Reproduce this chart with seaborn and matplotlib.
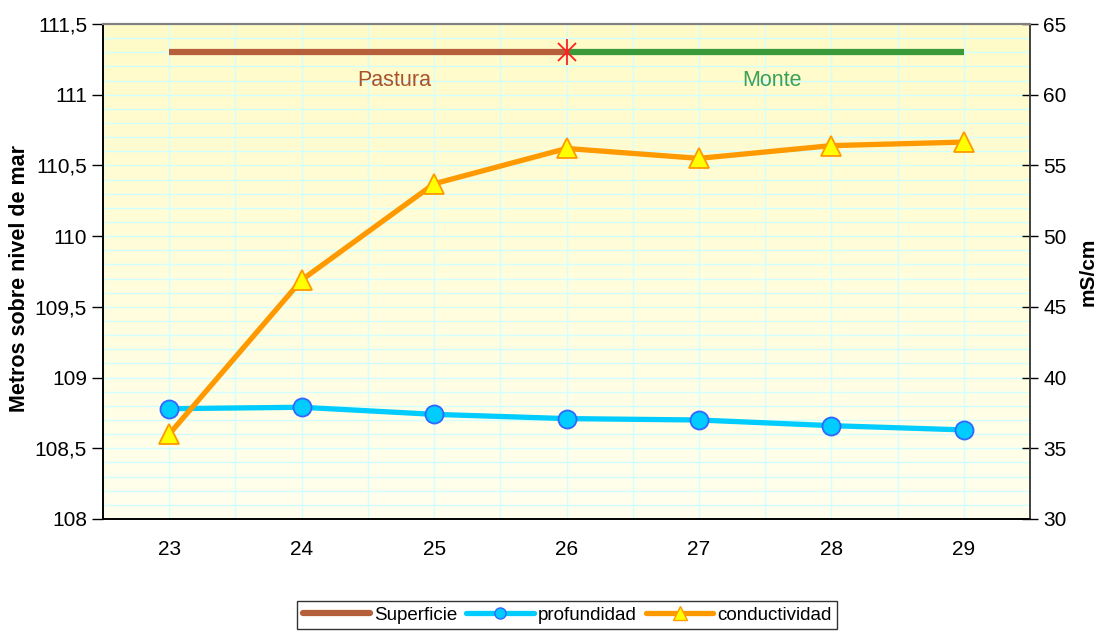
import numpy as np
import matplotlib
matplotlib.use("Agg")
import matplotlib.pyplot as plt
import seaborn as sns
from matplotlib.lines import Line2D
from matplotlib.ticker import FuncFormatter, MultipleLocator

# datos
dias = [23, 24, 25, 26, 27, 28, 29]
profundidad = [108.78, 108.79, 108.74, 108.71, 108.70, 108.66, 108.63]
conductividad = [36.0, 46.9, 53.7, 56.2, 55.5, 56.4, 56.65]
superficie_dias_pastura = [23, 26]
superficie_dias_monte = [26, 29]
superficie_nivel = 111.3
etiquetas_zona = ["Pastura", "Monte"]

sns.set_theme(style="white")
plt.rcParams["font.family"] = ["Liberation Sans", "DejaVu Sans"]
plt.rcParams["text.color"] = "black"
plt.rcParams["xtick.color"] = "black"
plt.rcParams["ytick.color"] = "black"
plt.rcParams["axes.labelcolor"] = "black"

fig = plt.figure(figsize=(11.02, 6.36), dpi=100)
ax = fig.add_axes([103 / 1102, 1 - 519 / 636, 927 / 1102, 495 / 636])
ax2 = ax.twinx()
ax2.patch.set_visible(False)

# fondo degradado amarillo
grad = np.linspace(0, 1, 256).reshape(-1, 1)
cmap = matplotlib.colors.LinearSegmentedColormap.from_list("fondo", ["#FFFFEE", "#FFFBC8"])
ax.imshow(grad, extent=[0, 1, 0, 1], transform=ax.transAxes, cmap=cmap,
          aspect="auto", origin="lower", zorder=-10)

ax.set_xlim(22.5, 29.5)
ax.set_ylim(108, 111.5)
ax2.set_ylim(30, 65)

# rejilla
grid_color = "#D2FFFF"
for x in np.arange(22.5, 29.6, 0.5):
    ax.axvline(x, color=grid_color, lw=1, zorder=-5)
for y in np.arange(108.1, 111.45, 0.1):
    ax.axhline(y, color=grid_color, lw=1, zorder=-5)

# superficie
ax.plot(superficie_dias_pastura, [superficie_nivel] * 2, color="#B5603A", lw=4.5, solid_capstyle="butt", zorder=3)
ax.plot(superficie_dias_monte, [superficie_nivel] * 2, color="#3A9A3A", lw=4.5, solid_capstyle="butt", zorder=3)
ax.plot([26], [superficie_nivel], marker="x", color="#FF2020", markersize=13, mew=1.3, zorder=4)
ax.plot([26], [superficie_nivel], marker="|", color="#FF2020", markersize=19, mew=1.3, zorder=4)
ax.text(24.7, 111.1, etiquetas_zona[0], color="#A8522E", fontsize=15.5, ha="center", va="center")
ax.text(27.55, 111.1, etiquetas_zona[1], color="#3CA05A", fontsize=15.5, ha="center", va="center")

# profundidad (eje izquierdo)
sns.lineplot(x=dias, y=profundidad, ax=ax, color="#00CCFF", lw=3.8, marker="o",
             markersize=13, markerfacecolor="#00CCFF", markeredgecolor="#3366FF",
             markeredgewidth=1.3, zorder=5)

# conductividad (eje derecho)
sns.lineplot(x=dias, y=conductividad, ax=ax2, color="#FF9900", lw=3.8, marker="^",
             markersize=15, markerfacecolor="#FFFF00", markeredgecolor="#FF9900",
             markeredgewidth=1.3, zorder=5)

coma = FuncFormatter(lambda v, p: ("%g" % v).replace(".", ","))
ax.yaxis.set_major_locator(MultipleLocator(0.5))
ax.yaxis.set_major_formatter(coma)
ax2.yaxis.set_major_locator(MultipleLocator(5))

ax.set_xticks(dias)
ax.set_xticks(np.arange(22.5, 29.6, 1), minor=True)
ax.tick_params(axis="x", which="major", length=0, labelsize=15, pad=15)
ax.tick_params(axis="x", which="minor", length=8, width=1, direction="inout", color="black")
ax.tick_params(axis="y", which="major", length=8, width=1, direction="out", labelsize=15, color="black", left=True)
ax2.tick_params(axis="y", which="major", length=12, width=1, direction="inout", labelsize=15, color="black", right=True)

ax.set_xlabel("")
ax.set_ylabel("")
ax2.set_ylabel("")
fig.text(20 / 1102, 1 - 278 / 636, "Metros sobre nivel de mar", fontsize=15.5, fontweight="bold",
         rotation=90, ha="center", va="center")
fig.text(1088 / 1102, 1 - 272 / 636, "mS/cm", fontsize=15, fontweight="bold",
         rotation=90, ha="center", va="center")

for a in (ax, ax2):
    a.spines["top"].set_color("#808080")
    a.spines["top"].set_linewidth(1.5)
    a.spines["left"].set_color("black")
    a.spines["bottom"].set_color("black")
    a.spines["right"].set_color("#404040")
    for s in ("left", "bottom", "right"):
        a.spines[s].set_linewidth(1.2)
    if a.get_legend():
        a.get_legend().remove()

handles = [
    Line2D([0], [0], color="#B5603A", lw=4.5),
    Line2D([0], [0], color="#00CCFF", lw=3.8, marker="o", markersize=8,
           markerfacecolor="#00CCFF", markeredgecolor="#3366FF"),
    Line2D([0], [0], color="#FF9900", lw=3.8, marker="^", markersize=10,
           markerfacecolor="#FFFF00", markeredgecolor="#FF9900"),
]
leg = fig.legend(handles, ["Superficie", "profundidad", "conductividad"], loc="center",
                 bbox_to_anchor=(567 / 1102, 1 - 615 / 636), ncol=3, fontsize=13.5,
                 frameon=True, fancybox=False, handlelength=3.6, handletextpad=0.2,
                 columnspacing=0.5, borderpad=0.3)
leg.get_frame().set_edgecolor("black")
leg.get_frame().set_linewidth(1.0)

fig.savefig("out.png", dpi=100)
